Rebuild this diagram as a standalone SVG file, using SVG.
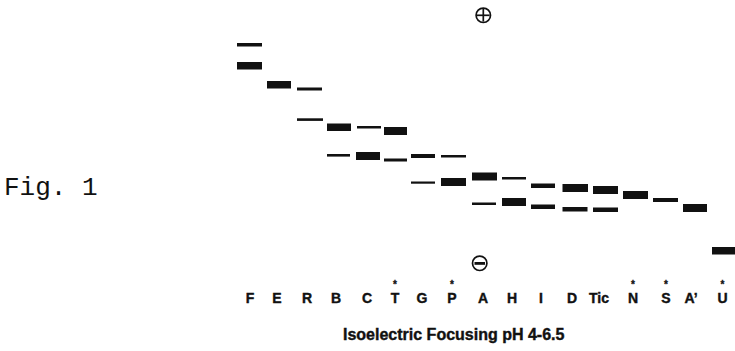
<svg xmlns="http://www.w3.org/2000/svg" width="735" height="351" viewBox="0 0 735 351">
<style>
.b{fill:#111}
.lbl{font-family:"Liberation Sans",Arial,sans-serif;font-weight:bold;font-size:14px;fill:#111;stroke:#111;stroke-width:0.4;text-anchor:middle}
.st{font-family:"Liberation Sans",Arial,sans-serif;font-weight:bold;font-size:10px;fill:#111;stroke:#111;stroke-width:0.3;text-anchor:middle}
.ttl{font-family:"Liberation Sans",Arial,sans-serif;font-weight:bold;font-size:16px;fill:#111;stroke:#111;stroke-width:0.4}
.fig{font-family:"Liberation Mono","Courier New",monospace;font-size:26px;fill:#111}
.sym{fill:none;stroke:#111;stroke-width:1.7}
</style>
<rect width="735" height="351" fill="#fff"/>
<text class="fig" x="4" y="195">Fig. 1</text>
<g id="anode">
<circle class="sym" cx="483.3" cy="15.3" r="7.2"/>
<line class="sym" x1="477" y1="15.3" x2="489.6" y2="15.3"/>
<line class="sym" x1="483.3" y1="9" x2="483.3" y2="21.6"/>
</g>
<g id="cathode">
<circle class="sym" cx="479.7" cy="263.3" r="7.2"/>
<rect class="b" x="474.5" y="262" width="10.5" height="2.8"/>
</g>
<g id="connectors"></g>
<g id="lane-F"><rect class="b" x="237" y="43" width="25" height="3.5"/><rect class="b" x="237" y="62" width="25" height="7.5"/><text class="lbl" x="250" y="303">F</text></g>
<g id="lane-E"><rect class="b" x="267" y="81" width="24" height="7.5"/><text class="lbl" x="277" y="303">E</text></g>
<g id="lane-R"><rect class="b" x="297" y="87.5" width="25" height="3"/><rect class="b" x="297" y="118.3" width="26" height="2.6"/><text class="lbl" x="307" y="303">R</text></g>
<g id="lane-B"><rect class="b" x="327" y="123.5" width="24" height="7.5"/><rect class="b" x="327" y="154" width="23" height="2.6"/><text class="lbl" x="336" y="303">B</text></g>
<g id="lane-C"><rect class="b" x="357" y="126" width="24" height="2.5"/><rect class="b" x="356" y="152" width="24" height="8"/><text class="lbl" x="367" y="303">C</text></g>
<g id="lane-T"><rect class="b" x="384" y="127" width="23" height="8"/><rect class="b" x="384" y="158.5" width="23" height="3"/><text class="st" x="395" y="288.3">*</text><text class="lbl" x="395" y="303">T</text></g>
<g id="lane-G"><rect class="b" x="411" y="154" width="24" height="4"/><rect class="b" x="411" y="181.5" width="24" height="2.2"/><text class="lbl" x="422" y="303">G</text></g>
<g id="lane-P"><rect class="b" x="441" y="155" width="25" height="2.5"/><rect class="b" x="441" y="178" width="25" height="8"/><text class="st" x="452" y="288.3">*</text><text class="lbl" x="452" y="303">P</text></g>
<g id="lane-A"><rect class="b" x="472" y="172.5" width="25" height="8"/><rect class="b" x="472" y="202.5" width="24" height="2.5"/><text class="lbl" x="483" y="303">A</text></g>
<g id="lane-H"><rect class="b" x="502" y="177" width="24" height="2.5"/><rect class="b" x="502" y="198" width="24" height="8"/><text class="lbl" x="512" y="303">H</text></g>
<g id="lane-I"><rect class="b" x="531" y="183.5" width="24" height="4.5"/><rect class="b" x="531" y="204.5" width="24" height="4.5"/><text class="lbl" x="541" y="303">I</text></g>
<g id="lane-D"><rect class="b" x="562.5" y="184" width="25.5" height="8"/><rect class="b" x="562.5" y="207" width="25" height="4.5"/><text class="lbl" x="572" y="303">D</text></g>
<g id="lane-Tic"><rect class="b" x="593" y="186" width="25" height="8"/><rect class="b" x="593" y="207.5" width="25" height="4.5"/><text class="lbl" x="599" y="303">Tic</text></g>
<g id="lane-N"><rect class="b" x="623" y="191" width="25" height="8"/><text class="st" x="633" y="288.3">*</text><text class="lbl" x="633" y="303">N</text></g>
<g id="lane-S"><rect class="b" x="653" y="198" width="25" height="4"/><text class="st" x="666" y="288.3">*</text><text class="lbl" x="666" y="303">S</text></g>
<g id="lane-A2"><rect class="b" x="683" y="204" width="24" height="8"/><text class="lbl" x="691" y="303">A’</text></g>
<g id="lane-U"><rect class="b" x="712" y="247" width="23" height="7.5"/><text class="st" x="722.5" y="288.3">*</text><text class="lbl" x="722.5" y="303">U</text></g>
<text class="ttl" x="343" y="340">Isoelectric Focusing pH 4-6.5</text>
</svg>
